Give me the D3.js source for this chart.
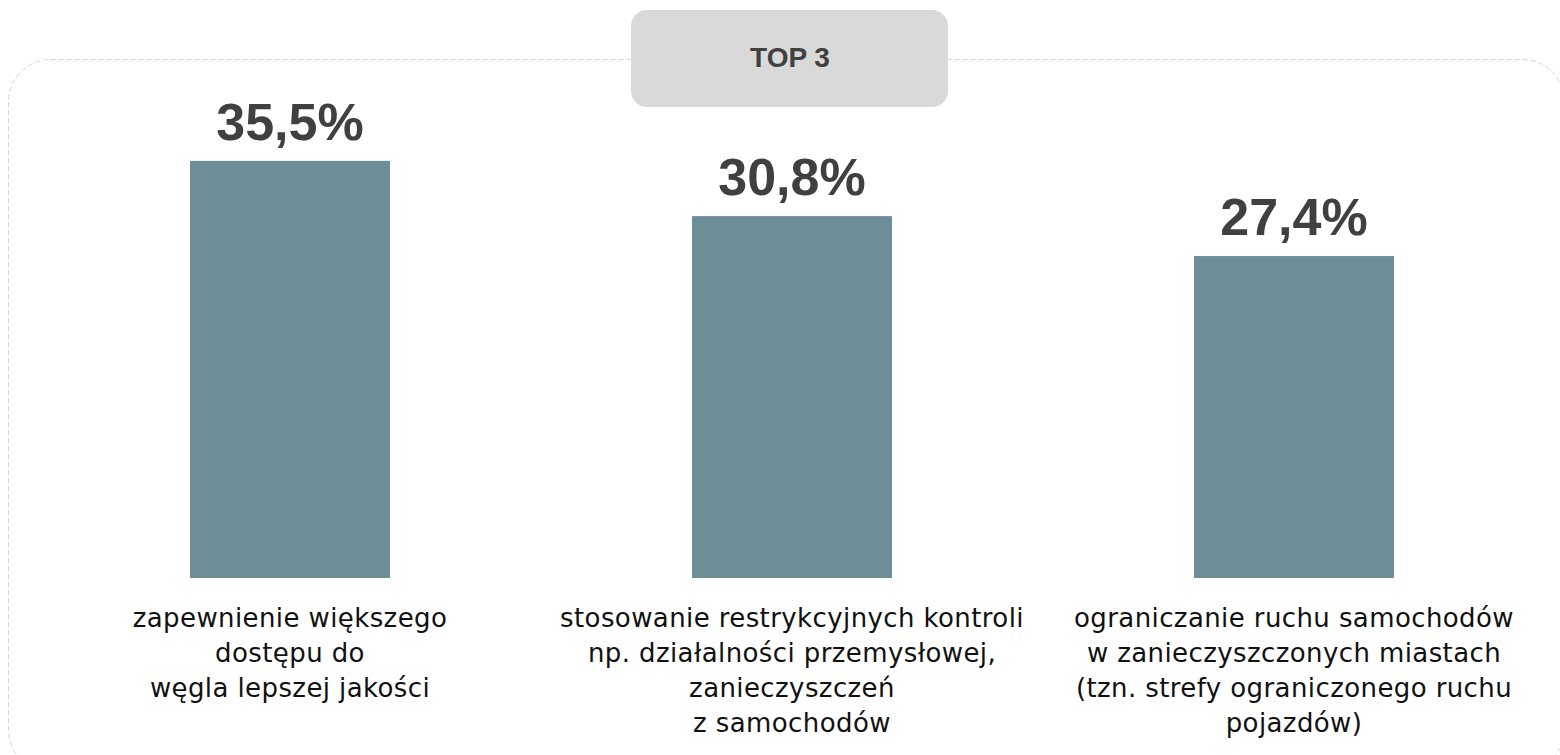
<!DOCTYPE html>
<html>
<head>
<meta charset="utf-8">
<script src="https://cdn.jsdelivr.net/npm/d3@7"></script>
<style>
  body { margin: 0; background: #fff; }
  svg { display: block; }
</style>
</head>
<body>
<svg id="chart" width="1560" height="755"></svg>
<script>
const categories = ['c1', 'c2', 'c3'];
const values = [35.5, 30.8, 27.4];
const valueLabels = ['35,5%', '30,8%', '27,4%'];
const categoryLines = [
  ['zapewnienie większego', 'dostępu do', 'węgla lepszej jakości'],
  ['stosowanie restrykcyjnych kontroli', 'np. działalności przemysłowej,', 'zanieczyszczeń', 'z samochodów'],
  ['ograniczanie ruchu samochodów', 'w zanieczyszczonych miastach', '(tzn. strefy ograniczonego ruchu', 'pojazdów)']
];
const title = 'TOP 3';

const svg = d3.select('#chart');

// dashed frame
svg.append('rect')
  .attr('x', 8.5)
  .attr('y', 59.5)
  .attr('width', 1556)
  .attr('height', 712)
  .attr('rx', 42)
  .attr('fill', 'none')
  .attr('stroke', '#d4d4d4')
  .attr('stroke-width', 1)
  .attr('stroke-dasharray', '5,3');

// title box
svg.append('rect')
  .attr('x', 631)
  .attr('y', 10)
  .attr('width', 317)
  .attr('height', 97)
  .attr('rx', 16)
  .attr('fill', '#d9d9d9');

svg.append('text')
  .attr('x', 790)
  .attr('y', 67)
  .attr('text-anchor', 'middle')
  .attr('fill', '#404040')
  .style('font-family', 'Liberation Sans, Arial, sans-serif')
  .style('font-weight', 'bold')
  .style('font-size', '28px')
  .text(title);

const x = d3.scaleBand()
  .domain(categories)
  .range([39, 1545])
  .paddingInner(0.6016)
  .paddingOuter(0.3008);

const y = d3.scaleLinear()
  .domain([0, 40])
  .range([578, 108]);

// bars
svg.selectAll('rect.bar')
  .data(values)
  .enter()
  .append('rect')
  .attr('class', 'bar')
  .attr('x', (d, i) => x(categories[i]))
  .attr('y', (d) => y(d))
  .attr('width', x.bandwidth())
  .attr('height', (d) => y(0) - y(d))
  .attr('fill', '#6d8e97');

// value labels
svg.selectAll('text.val')
  .data(values)
  .enter()
  .append('text')
  .attr('class', 'val')
  .attr('x', (d, i) => x(categories[i]) + x.bandwidth() / 2)
  .attr('y', (d) => y(d) - 21)
  .attr('text-anchor', 'middle')
  .attr('fill', '#404040')
  .style('font-family', 'Liberation Sans, Arial, sans-serif')
  .style('font-weight', 'bold')
  .style('font-size', '52px')
  .text((d, i) => valueLabels[i]);

// category labels
const lab = svg.selectAll('text.cat')
  .data(categoryLines)
  .enter()
  .append('text')
  .attr('class', 'cat')
  .attr('text-anchor', 'middle')
  .attr('fill', '#111')
  .style('font-family', 'DejaVu Sans, sans-serif')
  .style('font-size', '26px')
  .style('letter-spacing', '0.4px');

lab.selectAll('tspan')
  .data((d, i) => d.map((t) => ({ t, i })))
  .enter()
  .append('tspan')
  .attr('x', (d) => x(categories[d.i]) + x.bandwidth() / 2)
  .attr('y', (d, j) => 627 + j * 35)
  .text((d) => d.t);
</script>
</body>
</html>
